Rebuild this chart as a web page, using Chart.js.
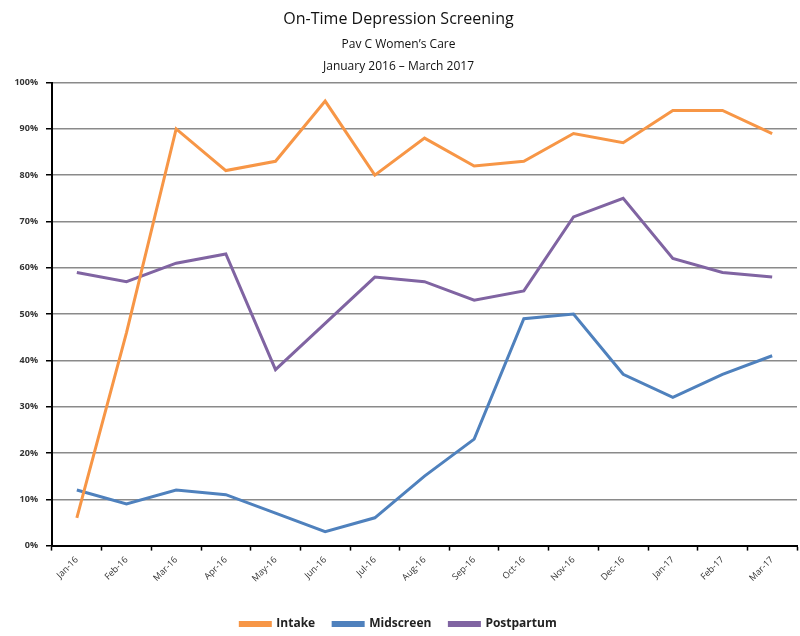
<!DOCTYPE html>
<html>
<head>
<meta charset="utf-8">
<script src="https://cdn.jsdelivr.net/npm/chart.js@4"></script>
<style>
  html, body { margin: 0; padding: 0; background: #fff; }
  #wrap { width: 800px; height: 636px; }
</style>
</head>
<body>
<div id="wrap"><canvas id="screeningChart" width="800" height="636"></canvas></div>
<script>
const months = ['Jan-16', 'Feb-16', 'Mar-16', 'Apr-16', 'May-16', 'Jun-16', 'Jul-16', 'Aug-16',
                'Sep-16', 'Oct-16', 'Nov-16', 'Dec-16', 'Jan-17', 'Feb-17', 'Mar-17'];
const intake = [6, 46, 90, 81, 83, 96, 80, 88, 82, 83, 89, 87, 94, 94, 89];
const midscreen = [12, 9, 12, 11, 7, 3, 6, 15, 23, 49, 50, 37, 32, 37, 41];
const postpartum = [59, 57, 61, 63, 38, 48, 58, 57, 53, 55, 71, 75, 62, 59, 58];
const yTicks = [0, 10, 20, 30, 40, 50, 60, 70, 80, 90, 100];

const font = "'Open Sans', 'Liberation Sans', sans-serif";

function series(label, data, color) {
    return {
        label,
        data,
        borderColor: color,
        backgroundColor: color,
        borderWidth: 3,
        pointRadius: 0,
        tension: 0,
        fill: false
    };
}

const ctx = document.getElementById('screeningChart').getContext('2d');

new Chart(ctx, {
    type: 'line',
    data: {
        labels: months,
        datasets: [
            series('Intake', intake, '#F79646'),
            series('Midscreen', midscreen, '#4F81BD'),
            series('Postpartum', postpartum, '#8064A2')
        ]
    },
    options: {
        responsive: false,
        animation: false,
        layout: { padding: { top: 10, right: 3, left: 0, bottom: -4 } },
        plugins: {
            title: {
                display: true,
                text: 'On-Time Depression Screening',
                color: '#111',
                font: { family: font, size: 16, weight: 'normal' },
                padding: { top: 0, bottom: 4 }
            },
            subtitle: {
                display: true,
                text: ['Pav C Women\u2019s Care', 'January 2016 \u2013 March 2017'],
                color: '#111',
                font: { family: font, size: 12, weight: 'normal', lineHeight: 1.85 },
                padding: { top: 0, bottom: 5 }
            },
            legend: {
                position: 'bottom',
                labels: {
                    boxWidth: 30,
                    boxHeight: 3,
                    color: '#222',
                    padding: 18,
                    font: { family: font, size: 12, weight: 'bold' }
                }
            },
            tooltip: { enabled: false }
        },
        scales: {
            x: {
                offset: true,
                afterFit: (scale) => { scale.height += 12; },
                grid: {
                    offset: true,
                    drawOnChartArea: false,
                    drawTicks: true,
                    tickLength: 5,
                    tickColor: '#000',
                    tickWidth: 1.5
                },
                border: { color: '#000', width: 2 },
                ticks: {
                    maxRotation: 45,
                    minRotation: 45,
                    color: '#333',
                    padding: 4,
                    font: { family: font, size: 9 }
                }
            },
            y: {
                min: 0,
                max: 100,
                afterFit: (scale) => { scale.width = 52; },
                afterBuildTicks: (scale) => { scale.ticks = yTicks.map(v => ({ value: v })); },
                grid: {
                    color: '#8a8a8a',
                    lineWidth: 1.5,
                    drawTicks: true,
                    tickLength: 6,
                    tickColor: '#000'
                },
                border: { color: '#000', width: 2 },
                ticks: {
                    color: '#333',
                    padding: 8,
                    font: { family: font, size: 9, weight: 'bold' },
                    callback: (v) => v + '%'
                }
            }
        }
    }
});
</script>
</body>
</html>
